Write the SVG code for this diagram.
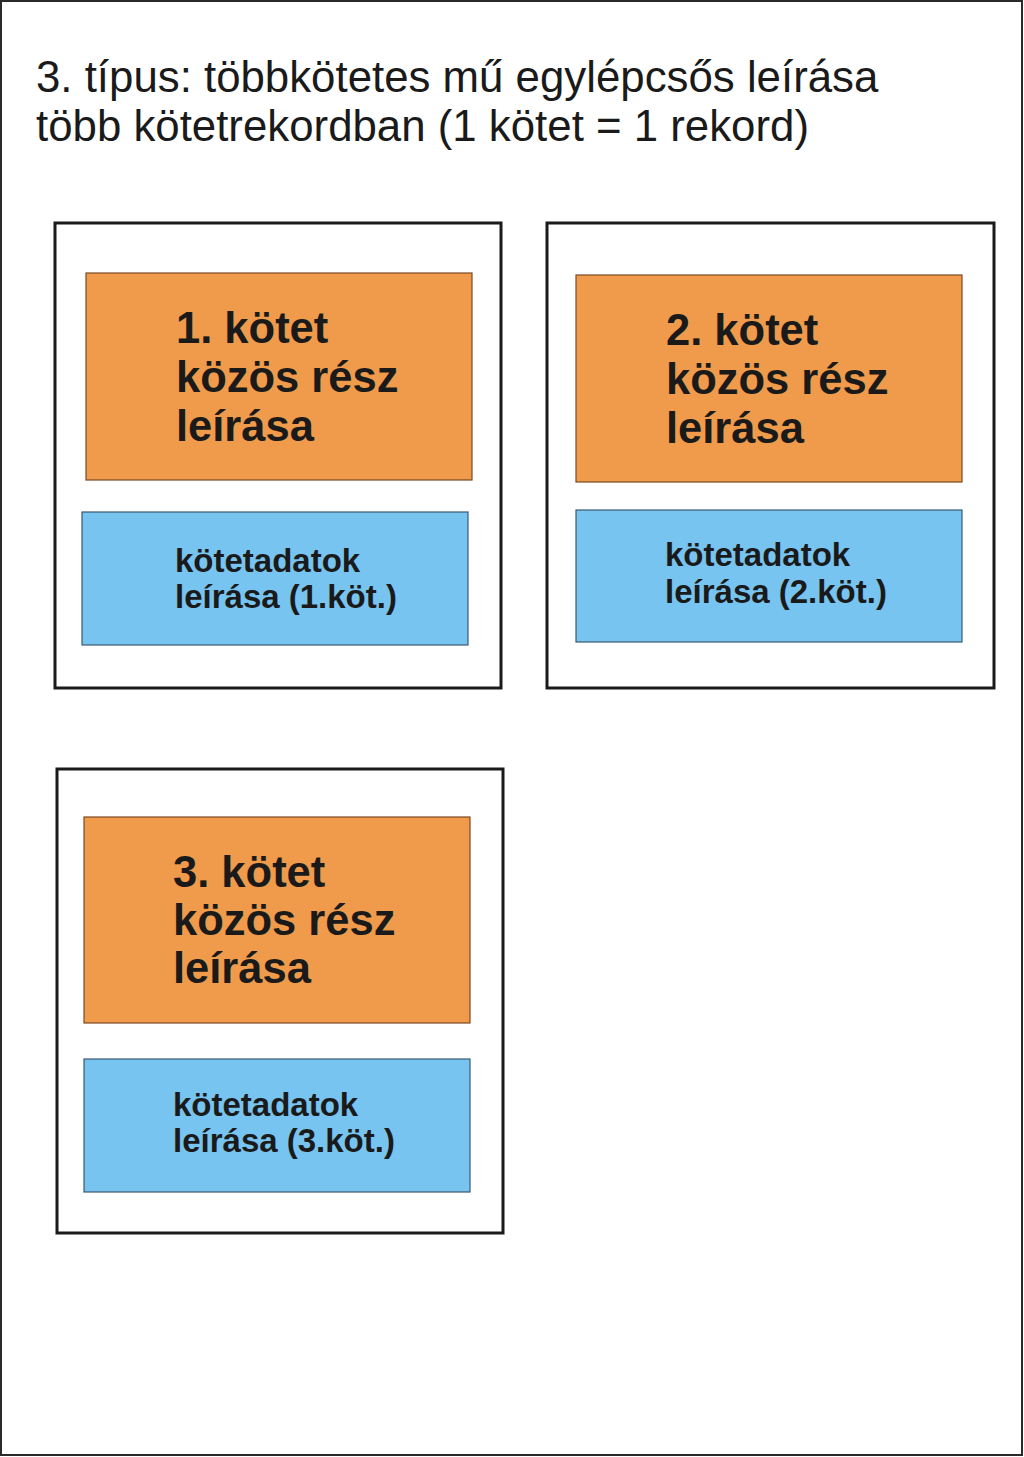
<svg xmlns="http://www.w3.org/2000/svg" width="1024" height="1457" viewBox="0 0 1024 1457">
<style>
.page{fill:#ffffff;stroke:#2a2a2a;stroke-width:2}
.frame{fill:#ffffff;stroke:#1a1a1a;stroke-width:3}
.orange{fill:#EF9B4B;stroke:#7a4a20;stroke-width:1.2}
.blue{fill:#76C4EF;stroke:#3a5a70;stroke-width:1.2}
.title{font-family:"Liberation Sans",Arial,sans-serif;font-size:43.8px;fill:#1a1a1a}
.big{font-family:"Liberation Sans",Arial,sans-serif;font-size:43.5px;font-weight:bold;fill:#1a1a1a}
.small{font-family:"Liberation Sans",Arial,sans-serif;font-size:33px;font-weight:bold;fill:#1a1a1a}
</style>
<rect class="page" x="1" y="1" width="1021" height="1454"/>
<g id="title">
<text class="title" x="36" y="92">3. típus: többkötetes mű egylépcsős leírása</text>
<text class="title" x="36" y="141">több kötetrekordban (1 kötet = 1 rekord)</text>
</g>
<g id="record1">
<rect class="frame" x="55" y="223" width="446" height="465"/>
<g id="common1">
<rect class="orange" x="86" y="273" width="386" height="207"/>
<text class="big" x="176" y="343">1. kötet</text>
<text class="big" x="176" y="392">közös rész</text>
<text class="big" x="176" y="441">leírása</text>
</g>
<g id="vol1">
<rect class="blue" x="82" y="512" width="386" height="133"/>
<text class="small" x="175" y="572">kötetadatok</text>
<text class="small" x="175" y="608">leírása (1.köt.)</text>
</g>
</g>
<g id="record2">
<rect class="frame" x="547" y="223" width="447" height="465"/>
<g id="common2">
<rect class="orange" x="576" y="275" width="386" height="207"/>
<text class="big" x="666" y="345">2. kötet</text>
<text class="big" x="666" y="394">közös rész</text>
<text class="big" x="666" y="443">leírása</text>
</g>
<g id="vol2">
<rect class="blue" x="576" y="510" width="386" height="132"/>
<text class="small" x="665" y="566">kötetadatok</text>
<text class="small" x="665" y="603">leírása (2.köt.)</text>
</g>
</g>
<g id="record3">
<rect class="frame" x="57" y="769" width="446" height="464"/>
<g id="common3">
<rect class="orange" x="84" y="817" width="386" height="206"/>
<text class="big" x="173" y="887">3. kötet</text>
<text class="big" x="173" y="935">közös rész</text>
<text class="big" x="173" y="983">leírása</text>
</g>
<g id="vol3">
<rect class="blue" x="84" y="1059" width="386" height="133"/>
<text class="small" x="173" y="1116">kötetadatok</text>
<text class="small" x="173" y="1152">leírása (3.köt.)</text>
</g>
</g>
<g id="connectors"></g>
</svg>
